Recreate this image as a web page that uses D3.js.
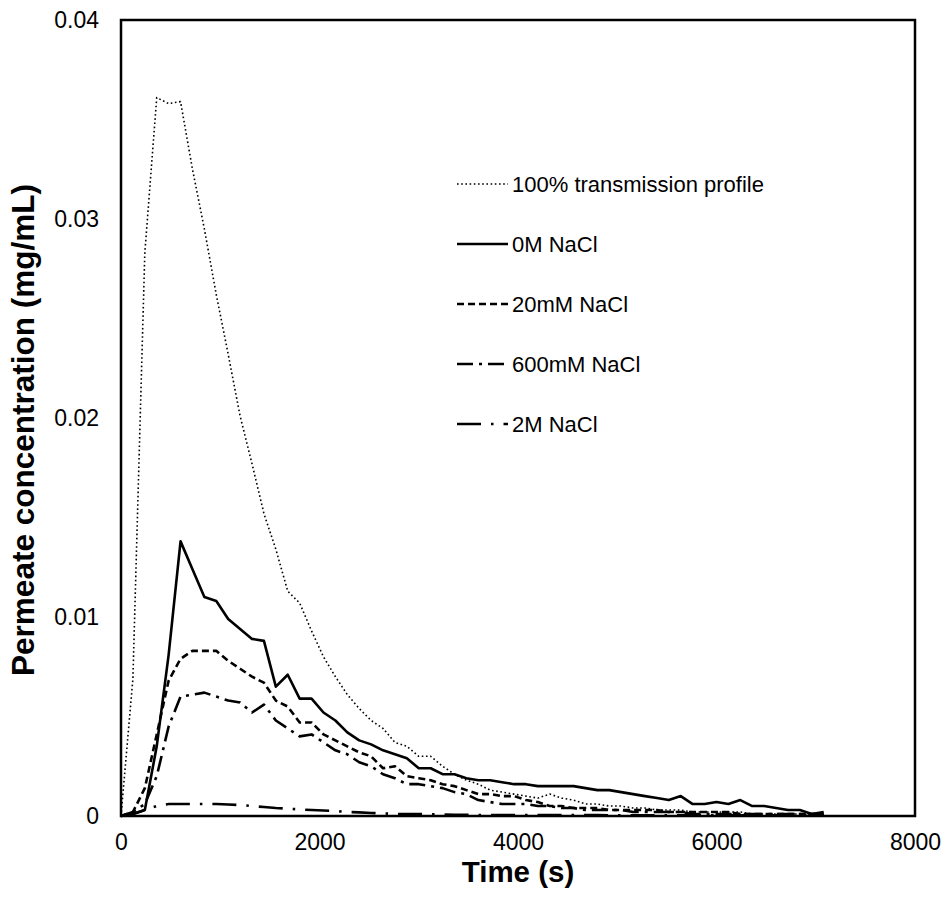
<!DOCTYPE html>
<html>
<head>
<meta charset="utf-8">
<script src="https://cdn.jsdelivr.net/npm/d3@7"></script>
<style>
body { margin: 0; background: #fff; }
text { font-family: "Liberation Sans", Arial, sans-serif; fill: #000; }
</style>
</head>
<body>
<svg width="945" height="904"></svg>
<script>
// sampling times (s)
var times = [0, 120, 240, 360, 480, 600, 720, 840, 960, 1080, 1200, 1320, 1440, 1560, 1680, 1800, 1920, 2040, 2160, 2280,
	2400, 2520, 2640, 2760, 2880, 3000, 3120, 3240, 3360, 3480, 3600, 3720, 3840, 3960, 4080, 4200, 4320, 4440, 4560, 4680,
	4800, 4920, 5040, 5160, 5280, 5400, 5520, 5640, 5760, 5880, 6000, 6120, 6240, 6360, 6480, 6600, 6720, 6840, 6960, 7080];

// permeate concentration (mg/mL)
var transmission = [0, 0.0069, 0.0283, 0.0361, 0.0358, 0.0359, 0.0325, 0.0295, 0.0262, 0.0232, 0.0201, 0.0177, 0.0152, 0.0134, 0.0113, 0.0107, 0.0093, 0.0080, 0.0070, 0.0061,
	0.0054, 0.0048, 0.0044, 0.0037, 0.0035, 0.0030, 0.0030, 0.0025, 0.0021, 0.0018, 0.0016, 0.0013, 0.0012, 0.0011, 0.0010, 0.0009, 0.0011, 0.0009, 0.0008, 0.0006,
	0.0006, 0.0005, 0.0005, 0.0004, 0.0004, 0.0003, 0.0003, 0.0003, 0.0002, 0.0002, 0.0002, 0.0002, 0.0002, 0.0001, 0.0001, 0.0001, 0.0001, 0.0001, 0.0001, 0.0001];
var nacl0M = [0, 0.0001, 0.0003, 0.0035, 0.0081, 0.0138, 0.0124, 0.0110, 0.0108, 0.0099, 0.0094, 0.0089, 0.0088, 0.0065, 0.0071, 0.0059, 0.0059, 0.0052, 0.0048, 0.0042,
	0.0038, 0.0036, 0.0033, 0.0031, 0.0029, 0.0024, 0.0024, 0.0021, 0.0021, 0.0019, 0.0018, 0.0018, 0.0017, 0.0016, 0.0016, 0.0015, 0.0015, 0.0015, 0.0015, 0.0014,
	0.0013, 0.0013, 0.0012, 0.0011, 0.0010, 0.0009, 0.0008, 0.0010, 0.0006, 0.0006, 0.0007, 0.0006, 0.0008, 0.0005, 0.0005, 0.0004, 0.0003, 0.0003, 0.0001, 0.0002];
var nacl20mM = [0, 0.0002, 0.0014, 0.0041, 0.0068, 0.0079, 0.0083, 0.0083, 0.0083, 0.0078, 0.0074, 0.0070, 0.0067, 0.0058, 0.0055, 0.0047, 0.0047, 0.0041, 0.0038, 0.0035,
	0.0032, 0.0030, 0.0024, 0.0025, 0.0020, 0.0019, 0.0018, 0.0016, 0.0015, 0.0013, 0.0011, 0.0011, 0.0010, 0.0010, 0.0008, 0.0007, 0.0005, 0.0005, 0.0004, 0.0004,
	0.0004, 0.0003, 0.0003, 0.0003, 0.0003, 0.0003, 0.0002, 0.0002, 0.0002, 0.0002, 0.0002, 0.0002, 0.0001, 0.0001, 0.0001, 0.0001, 0.0001, 0.0001, 0.0001, 0.0001];
var nacl600mM = [0, 0.0002, 0.0006, 0.0020, 0.0045, 0.0060, 0.0061, 0.0062, 0.0060, 0.0058, 0.0057, 0.0052, 0.0056, 0.0048, 0.0044, 0.0040, 0.0041, 0.0037, 0.0033, 0.0031,
	0.0027, 0.0025, 0.0021, 0.0019, 0.0016, 0.0016, 0.0015, 0.0014, 0.0012, 0.0011, 0.0008, 0.0007, 0.0006, 0.0006, 0.0006, 0.0005, 0.0005, 0.0004, 0.0004, 0.0003,
	0.0003, 0.0003, 0.0003, 0.0002, 0.0002, 0.0002, 0.0002, 0.0002, 0.0001, 0.0001, 0.0001, 0.0001, 0.0001, 0.0001, 0.0001, 0.0001, 0.0001, 0.0001, 0.0001, 0.0001];
var nacl2M = [0, 0.0001, 0.0003, 0.0005, 0.0006, 0.0006, 0.0006, 0.0006, 0.0006, 0.00058, 0.00055, 0.0005, 0.00045, 0.0004, 0.00037, 0.00033, 0.0003, 0.00028, 0.00025, 0.0002,
	0.00018, 0.00015, 0.00013, 0.0001, 0.0001, 0.0001, 0.00008, 0.00008, 0.00006, 0.00006, 0.00005, 0.00005, 0.00005, 0.00005, 0.00005, 0.00005, 0.00005, 0.00005, 0.00005, 0.00005,
	0.00005, 0.00004, 0.00004, 0.00004, 0.00004, 0.00004, 0.00004, 0.00004, 0.00004, 0.00004, 0.00004, 0.00003, 0.00003, 0.00003, 0.00003, 0.00003, 0.00003, 0.00003, 0.00003, 0.00003];

var xTicks = [0, 2000, 4000, 6000, 8000];
var yTicks = [0, 0.01, 0.02, 0.03, 0.04];
var yTickLabels = ["0", "0.01", "0.02", "0.03", "0.04"];

var series = [
	{name: "100% transmission profile", values: transmission, width: 1.6, dash: "1.6,2.6"},
	{name: "0M NaCl", values: nacl0M, width: 2.6, dash: null},
	{name: "20mM NaCl", values: nacl20mM, width: 2.6, dash: "7,4"},
	{name: "600mM NaCl", values: nacl600mM, width: 2.6, dash: "16,6,3,6"},
	{name: "2M NaCl", values: nacl2M, width: 2.6, dash: "24,10,2.5,10"}
];

var plotLeft = 121, plotRight = 915, plotTop = 20, plotBottom = 816;
var svg = d3.select("svg");

var x = d3.scaleLinear().domain([0, 8000]).range([plotLeft, plotRight]);
var y = d3.scaleLinear().domain([0, 0.04]).range([plotBottom, plotTop]);

var line = d3.line()
	.x(function(d, i) { return x(times[i]); })
	.y(function(d) { return y(d); });

var plot = svg.append("g");
series.forEach(function(s) {
	plot.append("path")
		.datum(s.values)
		.attr("fill", "none")
		.attr("stroke", "#000")
		.attr("stroke-width", s.width)
		.attr("stroke-dasharray", s.dash)
		.attr("stroke-linejoin", "round")
		.attr("d", line);
});

// frame
svg.append("rect")
	.attr("x", plotLeft).attr("y", plotTop)
	.attr("width", plotRight - plotLeft).attr("height", plotBottom - plotTop)
	.attr("fill", "none").attr("stroke", "#000").attr("stroke-width", 2.5);

// axes (labels only, the frame draws the lines)
var xAxis = svg.append("g").attr("transform", "translate(0," + plotBottom + ")")
	.call(d3.axisBottom(x).tickValues(xTicks).tickSize(0).tickPadding(18).tickFormat(d3.format("d")));
var yAxis = svg.append("g").attr("transform", "translate(" + plotLeft + ",0)")
	.call(d3.axisLeft(y).tickValues(yTicks).tickSize(0).tickPadding(22).tickFormat(function(d, i) { return yTickLabels[i]; }));
[xAxis, yAxis].forEach(function(a) {
	a.select(".domain").remove();
	a.selectAll("text").style("font-family", "'Liberation Sans', Arial, sans-serif").style("font-size", "23px");
});

svg.append("text")
	.attr("x", (plotLeft + plotRight) / 2).attr("y", 882)
	.attr("text-anchor", "middle")
	.style("font-size", "29.5px").style("font-weight", "bold")
	.text("Time (s)");

svg.append("text")
	.attr("transform", "translate(34,430) rotate(-90)")
	.attr("text-anchor", "middle")
	.style("font-size", "31.5px").style("font-weight", "bold")
	.text("Permeate concentration (mg/mL)");

// legend
var legend = svg.append("g");
series.forEach(function(s, i) {
	var ly = 184 + i * 60;
	legend.append("line")
		.attr("x1", 457).attr("x2", 508).attr("y1", ly).attr("y2", ly)
		.attr("stroke", "#000").attr("stroke-width", s.width)
		.attr("stroke-dasharray", s.dash);
	legend.append("text")
		.attr("x", 512).attr("y", ly).attr("dy", "0.35em")
		.style("font-size", "22px")
		.text(s.name);
});
</script>
</body>
</html>
